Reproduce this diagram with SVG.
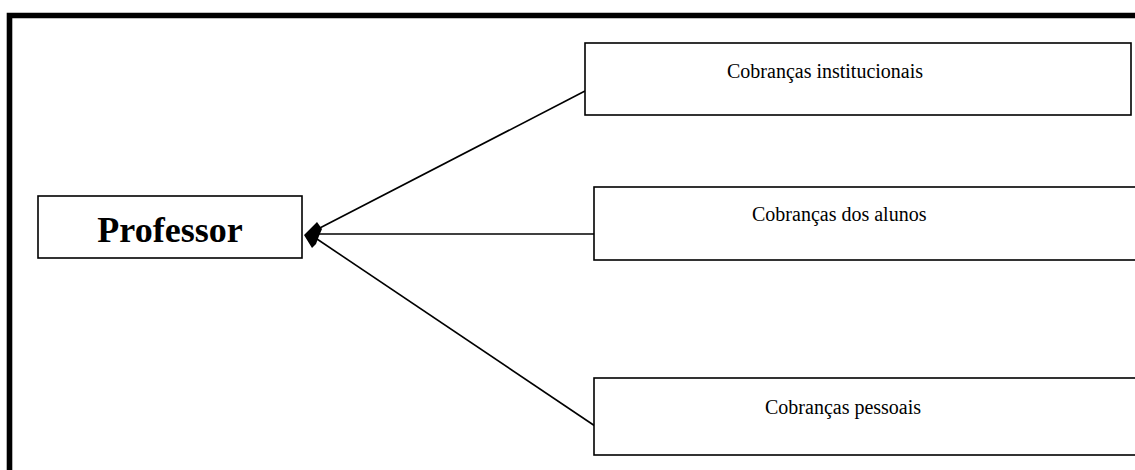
<svg xmlns="http://www.w3.org/2000/svg" width="1135" height="470" viewBox="0 0 1135 470">
  <style>
    .box { fill: #ffffff; stroke: #000000; stroke-width: 1.6; }
    .label { font-family: "Liberation Serif", "Times New Roman", serif; fill: #000000; }
    .small { font-size: 20px; }
    .big { font-size: 36px; font-weight: bold; }
    .edge { stroke: #000000; stroke-width: 1.6; fill: none; }
  </style>
  <rect x="0" y="0" width="1135" height="470" fill="#ffffff"/>

  <!-- page frame: heavy rule along the left and top edges -->
  <path d="M9.5,470 V15.5 H1135" fill="none" stroke="#000000" stroke-width="5.6"/>

  <g id="connectors">
    <line class="edge" x1="585" y1="91" x2="314" y2="231"/>
    <line class="edge" x1="594" y1="234" x2="314" y2="234"/>
    <line class="edge" x1="595" y1="426" x2="314" y2="237"/>
    <!-- merged arrowheads where the three lines meet -->
    <polygon points="304,235 317,222 322,229 319,236 316,244 312,248" fill="#000000"/>
  </g>

  <g id="node-professor">
    <rect class="box" x="38" y="196" width="264" height="62"/>
    <text class="label big" x="170" y="242" text-anchor="middle">Professor</text>
  </g>

  <g id="node-institucionais">
    <rect class="box" x="585" y="43" width="546" height="72"/>
    <text class="label small" x="727" y="78">Cobranças institucionais</text>
  </g>

  <g id="node-alunos">
    <rect class="box" x="594" y="187" width="560" height="73"/>
    <text class="label small" x="752" y="221">Cobranças dos alunos</text>
  </g>

  <g id="node-pessoais">
    <rect class="box" x="594" y="378" width="560" height="77"/>
    <text class="label small" x="765" y="414">Cobranças pessoais</text>
  </g>
</svg>
